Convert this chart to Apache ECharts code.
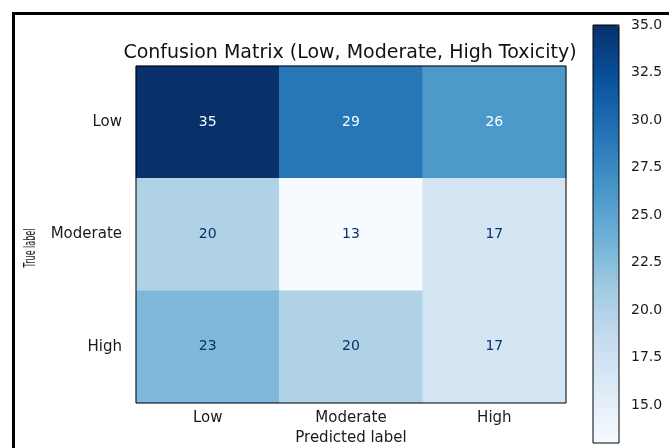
<!DOCTYPE html>
<html>
<head>
<meta charset="utf-8">
<script src="https://cdn.jsdelivr.net/npm/echarts@6/dist/echarts.min.js"></script>
<style>
  html, body { margin: 0; padding: 0; background: #fff; }
  #main { width: 669px; height: 448px; }
</style>
</head>
<body>
<div id="main"></div>
<script>
// classes (same order on both axes)
var labels = ["Low", "Moderate", "High"];
// counts, one row per true label
var rowLow = [35, 29, 26];
var rowModerate = [20, 13, 17];
var rowHigh = [23, 20, 17];
var colorbarTicks = [15, 17.5, 20, 22.5, 25, 27.5, 30, 32.5, 35];

// matplotlib "Blues"
var blues = ["#f7fbff", "#deebf7", "#c6dbef", "#9ecae1", "#6baed6", "#4292c6", "#2171b5", "#08519c", "#08306b"];

var rows = [rowLow, rowModerate, rowHigh];
var vmin = Infinity, vmax = -Infinity;
rows.forEach(function (r) {
  r.forEach(function (v) {
    vmin = Math.min(vmin, v);
    vmax = Math.max(vmax, v);
  });
});
var thresh = (vmin + vmax) / 2;

var data = [];
for (var i = 0; i < rows.length; i++) {
  for (var j = 0; j < rows[i].length; j++) {
    var v = rows[i][j];
    data.push({
      value: [j, i, v],
      label: { color: v > thresh ? blues[0] : blues[8] }
    });
  }
}

var myChart = echarts.init(document.getElementById("main"));
var font = "DejaVu Sans";
myChart.setOption({
  animation: false,
  backgroundColor: "#fff",
  textStyle: { fontFamily: font },
  title: {
    text: "Confusion Matrix (Low, Moderate, High Toxicity)",
    left: 350,
    textAlign: "center",
    top: 44,
    padding: 0,
    textStyle: { fontFamily: font, fontSize: 19, fontWeight: "normal", color: "#111" }
  },
  graphic: [
    {
      type: "rect",
      left: 11,
      top: 11,
      shape: { width: 700, height: 500 },
      style: { fill: null, stroke: "#000", lineWidth: 3 },
      silent: true
    },
    {
      // squeezed y axis title, as in the source image
      type: "text",
      x: 31,
      y: 248,
      rotation: Math.PI / 2,
      scaleX: 0.5,
      style: {
        text: "True label",
        fontFamily: font,
        fontSize: 16,
        fill: "#1a1a1a",
        align: "center",
        verticalAlign: "middle"
      },
      silent: true
    }
  ],
  grid: [
    { left: 136, right: 103, top: 66, bottom: 45, outerBoundsMode: "none", show: true, borderColor: "#000", borderWidth: 1, z: 10 },
    { left: 593, top: 25, width: 26, height: 418, outerBoundsMode: "none", show: true, borderColor: "#000", borderWidth: 1, z: 10 }
  ],
  xAxis: [
    {
      type: "category",
      data: labels,
      gridIndex: 0,
      name: "Predicted label",
      nameLocation: "middle",
      nameGap: 26,
      nameTextStyle: { fontSize: 15, color: "#1a1a1a" },
      axisLine: { show: false },
      axisTick: { alignWithLabel: true, length: 5, lineStyle: { color: "#000" } },
      axisLabel: { fontSize: 15, color: "#1a1a1a", margin: 8 },
      splitLine: { show: false }
    },
    { type: "value", gridIndex: 1, show: false, min: 0, max: 1 }
  ],
  yAxis: [
    {
      type: "category",
      data: labels,
      inverse: true,
      gridIndex: 0,
      axisLine: { show: false },
      axisTick: { alignWithLabel: true, length: 5, lineStyle: { color: "#000" } },
      axisLabel: { fontSize: 15, color: "#1a1a1a", margin: 14 },
      splitLine: { show: false }
    },
    {
      type: "value",
      gridIndex: 1,
      position: "right",
      min: vmin,
      max: vmax,
      axisLine: { show: false },
      splitLine: { show: false },
      axisTick: { show: true, length: 6, customValues: colorbarTicks, lineStyle: { color: "#000" } },
      axisLabel: {
        fontSize: 14,
        color: "#1a1a1a",
        margin: 12,
        customValues: colorbarTicks,
        formatter: function (v) { return v.toFixed(1); }
      }
    }
  ],
  visualMap: {
    type: "continuous",
    min: vmin,
    max: vmax,
    seriesIndex: 0,
    calculable: false,
    left: 593,
    top: 25,
    padding: 0,
    itemWidth: 26,
    itemHeight: 418,
    text: null,
    inRange: { color: blues }
  },
  series: [
    {
      type: "heatmap",
      xAxisIndex: 0,
      yAxisIndex: 0,
      data: data,
      label: { show: true, fontSize: 14 },
      itemStyle: { borderWidth: 0 }
    }
  ]
});
window.addEventListener("resize", function () {
  myChart.resize();
});
</script>
</body>
</html>
